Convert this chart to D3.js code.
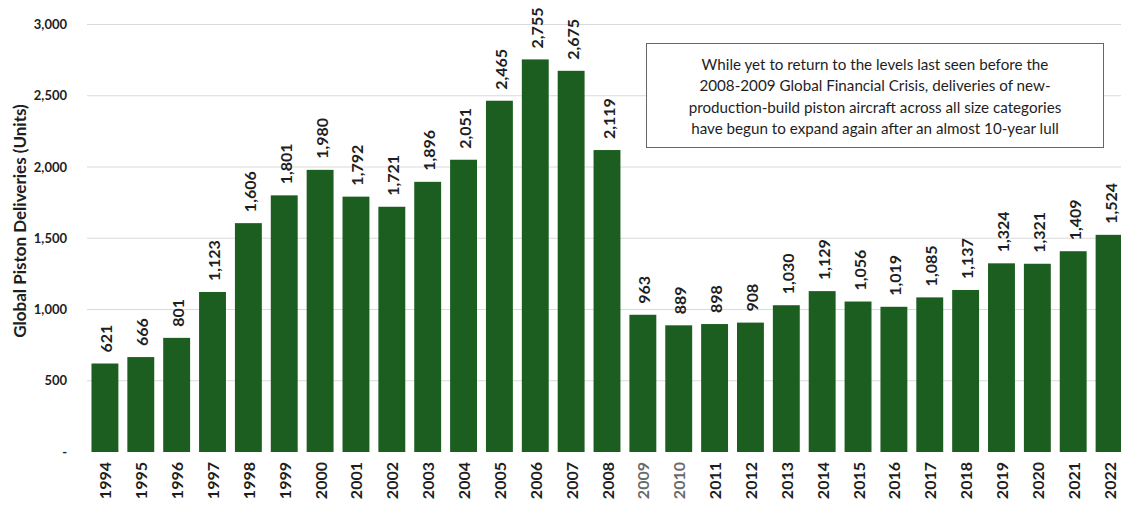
<!DOCTYPE html>
<html>
<head>
<meta charset="utf-8">
<script src="https://cdn.jsdelivr.net/npm/d3@7"></script>
<style>
  html, body { margin: 0; padding: 0; background: #fff; }
  svg { display: block; }
  text { font-family: Lato, "Open Sans", sans-serif; }
</style>
</head>
<body>
<svg id="chart" width="1121" height="506"></svg>
<script>
// Global piston aircraft deliveries by year
const years = ["1994","1995","1996","1997","1998","1999","2000","2001","2002","2003",
  "2004","2005","2006","2007","2008","2009","2010","2011","2012","2013",
  "2014","2015","2016","2017","2018","2019","2020","2021","2022"];
const deliveries = [621, 666, 801, 1123, 1606, 1801, 1980, 1792, 1721, 1896,
  2051, 2465, 2755, 2675, 2119, 963, 889, 898, 908, 1030,
  1129, 1056, 1019, 1085, 1137, 1324, 1321, 1409, 1524];
const yTicks = [0, 500, 1000, 1500, 2000, 2500, 3000];
const yTitle = "Global Piston Deliveries (Units)";
const noteLines = [
  "While yet to return to the levels last seen before the",
  "2008-2009 Global Financial Crisis, deliveries of new-",
  "production-build piston aircraft across all size categories",
  "have begun to expand again after an almost 10-year lull"
];
const fadedYears = ["2009", "2010"];

const svg = d3.select("#chart");
const barColor = "#1b5e1f";
const ink = "#1e1e1e";
const fmt = d3.format(",");

const x = d3.scaleBand()
  .domain(years)
  .range([87, 1127])
  .paddingInner(0.25)
  .paddingOuter(0.125);

const y = d3.scaleLinear()
  .domain([0, 3000])
  .range([452, 24.5]);

// horizontal gridlines
svg.append("g")
  .selectAll("line")
  .data(yTicks.filter(d => d > 0))
  .join("line")
  .attr("x1", 87)
  .attr("x2", 1121)
  .attr("y1", d => y(d))
  .attr("y2", d => y(d))
  .attr("stroke", "#dadada")
  .attr("stroke-width", 1);

// y axis tick labels (zero shown as a dash)
const yAxis = d3.axisLeft(y)
  .tickValues(yTicks)
  .tickSize(0)
  .tickPadding(0)
  .tickFormat(d => d === 0 ? "-" : fmt(d));

svg.append("g")
  .attr("transform", "translate(67,0)")
  .call(yAxis)
  .call(g => g.select(".domain").remove())
  .call(g => g.selectAll("text")
    .attr("font-family", "Lato, sans-serif")
    .attr("font-size", 13)
    .attr("font-weight", 700)
    .attr("fill", ink));

// y axis title
svg.append("text")
  .attr("transform", "translate(19,221) rotate(-90)")
  .attr("text-anchor", "middle")
  .attr("dominant-baseline", "central")
  .attr("font-size", 17)
  .attr("font-weight", 700)
  .attr("fill", ink)
  .text(yTitle);

// bars
svg.append("g")
  .selectAll("rect")
  .data(years)
  .join("rect")
  .attr("x", d => x(d))
  .attr("width", x.bandwidth())
  .attr("y", (d, i) => y(deliveries[i]))
  .attr("height", (d, i) => y(0) - y(deliveries[i]))
  .attr("fill", barColor);

// value labels above each bar
svg.append("g")
  .selectAll("text")
  .data(years)
  .join("text")
  .attr("transform", (d, i) =>
    `translate(${x(d) + x.bandwidth() / 2 + 1},${y(deliveries[i]) - 11}) rotate(-90)`)
  .attr("text-anchor", "start")
  .attr("dominant-baseline", "central")
  .attr("font-size", 16)
  .attr("font-weight", 700)
  .attr("fill", ink)
  .text((d, i) => fmt(deliveries[i]));

// year labels along the bottom
const xAxis = d3.axisBottom(x).tickSize(0).tickPadding(0);
svg.append("g")
  .attr("transform", "translate(0,462)")
  .call(xAxis)
  .call(g => g.select(".domain").remove())
  .call(g => g.selectAll("text")
    .attr("transform", "rotate(-90)")
    .attr("text-anchor", "end")
    .attr("dy", null)
    .attr("x", 0)
    .attr("y", 0)
    .attr("dominant-baseline", "central")
    .attr("font-family", "Lato, sans-serif")
    .attr("font-size", 16)
    .attr("font-weight", 700)
    .attr("fill", d => fadedYears.includes(d) ? "#6a6a6a" : ink));

// annotation box
const note = svg.append("g");
note.append("rect")
  .attr("x", 646.5)
  .attr("y", 43.5)
  .attr("width", 457)
  .attr("height", 104)
  .attr("fill", "#fff")
  .attr("stroke", "#666")
  .attr("stroke-width", 1);
note.selectAll("text")
  .data(noteLines)
  .join("text")
  .attr("x", 875)
  .attr("y", (d, i) => 63.5 + i * 21.5)
  .attr("text-anchor", "middle")
  .attr("dominant-baseline", "central")
  .attr("font-size", 15.2)
  .attr("fill", ink)
  .text(d => d);
</script>
</body>
</html>
